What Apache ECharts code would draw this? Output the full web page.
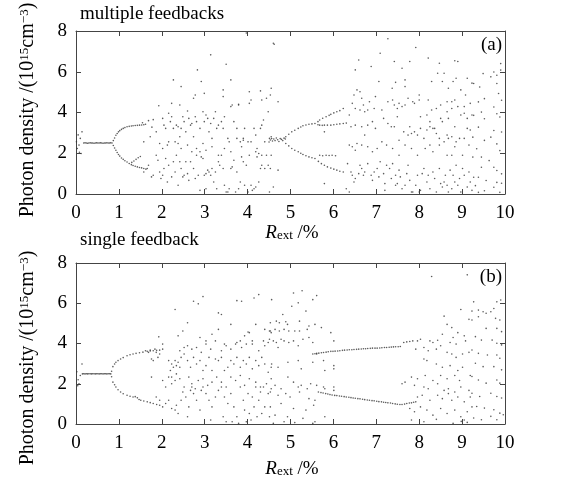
<!DOCTYPE html>
<html><head><meta charset="utf-8">
<script src="https://cdn.jsdelivr.net/npm/echarts@6/dist/echarts.min.js"></script>
<style>html,body{margin:0;padding:0;background:#fff}#c{width:561px;height:486px}</style>
</head><body><div id="c"></div>
<script>
// ---------- axes ----------
const xMin = 0, xMax = 10, xStep = 1;
const yMin = 0, yMax = 8, yStep = 2;
const titleA = 'multiple feedbacks';
const titleB = 'single feedback';

// ---------- panel (a): multiple feedbacks ----------
const aTransient = [[0.01,2.56],[0.03,2.23],[0.07,2.40],[0.10,2.73],[0.12,1.99],[0.14,3.05],[0.05,2.9],[0.08,2.05]];
const aFixed = [[0.18,2.50],[0.21,2.51],[0.24,2.50],[0.27,2.49],[0.30,2.50],[0.33,2.51],[0.36,2.50],[0.39,2.50],[0.42,2.49],[0.45,2.50],[0.48,2.51],[0.51,2.50],[0.54,2.50],[0.57,2.51],[0.60,2.50],[0.63,2.49],[0.66,2.50],[0.69,2.50],[0.72,2.51],[0.75,2.50],[0.78,2.50],[0.81,2.51],[0.84,2.50]];
const aBranch1 = [[0.87,2.62],[0.90,2.75],[0.93,2.88],[0.96,2.97],[0.99,3.05],[1.02,3.11],[1.06,3.17],[1.10,3.22],[1.14,3.26],[1.19,3.30],[1.24,3.32],[1.29,3.34],[1.33,3.35],[1.38,3.36],[1.43,3.37],[1.48,3.38],[1.53,3.39],[1.58,3.40],
 [0.87,2.38],[0.90,2.26],[0.93,2.15],[0.96,2.04],[0.99,1.94],[1.02,1.86],[1.06,1.77],[1.10,1.70],[1.14,1.63],[1.19,1.57],[1.24,1.50],[1.29,1.44],[1.33,1.40],[1.38,1.36],[1.43,1.33],[1.48,1.30],[1.53,1.28],[1.58,1.25],[1.63,1.22],
 [1.30,1.55],[1.35,1.62],[1.40,1.70],[1.45,1.78],[1.50,1.84],
 [1.55,3.50],[1.62,3.42],[1.69,3.60],[1.77,3.28],[1.80,3.65]];
const aChaos1 = [[1.58,2.56],[1.73,2.81],[1.87,3.05],[1.95,2.48],[2.02,3.71],[2.05,3.38],[2.09,3.22],[2.16,3.96],[2.20,3.55],[2.23,3.79],[2.27,3.22],[2.34,3.38],[2.38,3.30],[2.42,2.81],[2.45,3.22],[2.49,3.79],[2.52,3.55],[2.56,3.05],[2.60,4.07],[2.63,3.71],[2.67,3.38],[2.70,3.46],[2.74,2.81],[2.78,3.79],[2.81,3.55],[2.89,3.22],[2.96,4.04],[2.99,3.55],[3.03,3.88],[3.07,3.71],[3.10,3.05],[3.14,3.46],[3.17,2.73],[3.21,3.71],[3.25,4.04],[3.28,3.22],[3.32,3.38],[3.39,3.55],[3.43,3.22],[3.46,3.79],[3.54,2.73],[3.57,2.56],[3.61,4.29],[3.64,4.37],[3.68,3.55],[3.75,3.22],[3.79,4.37],[3.83,2.56],[3.86,2.32],[3.90,2.73],[3.93,3.22],[4.01,2.56],[4.04,4.45],[4.08,2.56],[4.15,3.22],[4.19,2.89],[4.22,2.23],[4.26,1.99],[4.30,3.22],[4.33,3.38],[4.37,3.63],[4.40,2.56],[4.48,4.04],[4.51,2.73],[4.55,2.81],
 [1.93,4.33],[2.23,4.45],[2.27,5.60],[2.42,4.37],[2.45,5.27],[2.74,4.70],[2.78,4.86],[2.83,6.09],[2.92,5.52],[2.99,4.94],[3.14,6.83],[3.43,5.11],[3.43,4.78],[3.50,6.37],[3.61,5.60],[3.79,4.40],[4.04,5.02],[4.08,4.61],[4.30,5.06],[4.33,4.61],[4.44,4.70],[3.97,7.90],[4.62,7.35],
 [1.58,1.08],[1.66,1.25],[1.69,1.41],[1.76,0.84],[1.80,0.92],[1.87,1.90],[1.91,1.66],[1.95,1.08],[1.98,0.76],[2.02,0.92],[2.05,1.25],[2.09,1.74],[2.13,0.59],[2.16,1.41],[2.23,0.84],[2.27,1.58],[2.31,1.08],[2.34,1.90],[2.38,0.43],[2.42,1.58],[2.45,1.25],[2.49,0.84],[2.52,0.92],[2.56,1.58],[2.60,1.00],[2.63,0.67],[2.67,1.58],[2.74,1.25],[2.78,0.76],[2.81,1.90],[2.85,0.92],[2.89,2.07],[2.92,1.82],[2.96,1.74],[2.99,0.92],[3.03,1.00],[3.07,1.17],[3.10,1.08],[3.14,0.92],[3.17,1.25],[3.21,0.59],[3.25,1.08],[3.28,0.26],[3.32,1.58],[3.35,1.41],[3.39,1.90],[3.43,1.25],[3.46,0.43],[3.50,0.10],[3.54,0.10],[3.57,0.26],[3.61,1.25],[3.64,1.33],[3.68,1.66],[3.72,0.10],[3.75,1.08],[3.79,0.26],[3.83,0.59],[3.86,1.82],[3.90,1.58],[3.93,0.43],[3.97,1.41],[4.01,0.10],[4.04,1.90],[4.08,0.43],[4.11,0.18],[4.15,0.26],[4.19,0.34],[4.22,1.82],[4.26,0.59],[4.30,1.25],[4.33,1.41],[4.40,1.25],[4.48,1.41],[4.51,0.10],[4.55,1.90],[2.89,0.18],[3.03,0.26],
 [2.02,2.23],[2.13,2.40],[2.16,2.56],[2.31,2.56],[2.38,2.48],[2.45,2.23],[2.60,2.40],[2.70,2.07],[2.81,2.23],[2.96,2.48],[3.03,2.15],[3.17,2.32],[3.32,1.90],[3.46,2.23],[3.61,2.07],[3.75,2.73],[3.90,2.64],[4.19,2.07],[4.33,1.90],[4.44,1.90]];
const aBranch2 = [[4.50,2.55],[4.53,2.65],[4.56,2.72],[4.58,2.60],[4.61,2.70],[4.64,2.62],[4.67,2.75],[4.70,2.66],[4.73,2.58],[4.76,2.72],[4.79,2.68],[4.82,2.62],[4.85,2.74],[4.88,2.70],
 [4.89,2.81],[4.96,2.93],[5.03,3.05],[5.10,3.13],[5.18,3.22],[5.24,3.29],[5.29,3.35],[5.36,3.39],[5.43,3.42],[5.50,3.44],[5.57,3.46],
 [5.64,3.40],[5.68,3.38],[5.74,3.37],[5.79,3.38],[5.86,3.38],[5.94,3.38],[6.01,3.40],[6.08,3.42],[6.15,3.44],[6.23,3.46],[6.30,3.48],
 [5.64,3.55],[5.68,3.63],[5.75,3.72],[5.83,3.79],[5.90,3.86],[5.94,3.91],[6.01,3.98],[6.08,4.04],[6.15,4.09],[6.23,4.20],
 [4.89,2.48],[4.96,2.36],[5.03,2.23],[5.10,2.15],[5.18,2.07],[5.24,2.00],[5.29,1.94],[5.36,1.88],[5.43,1.82],[5.50,1.78],[5.57,1.74],
 [5.68,1.90],[5.75,1.88],[5.83,1.90],[5.90,1.89],[5.97,1.90],[6.05,1.88],
 [5.65,1.60],[5.72,1.49],[5.79,1.41],[5.86,1.33],[5.94,1.27],[6.01,1.22],[6.08,1.17],[6.15,1.12],[6.23,1.08],
 [4.60,7.40],[4.55,5.19],[4.53,4.86],[4.71,4.53],[4.53,1.25],[4.71,1.17],[4.60,0.34],[5.79,0.51],[5.79,3.05],[6.30,0.26]];
const aChaos2 = [[6.59,6.58],[6.51,6.09],[6.88,6.26],[7.09,6.91],[7.27,7.62],[7.06,5.52],[7.42,6.50],[7.45,5.48],[7.60,6.17],[7.67,5.60],[7.78,6.50],[7.92,7.19],[8.21,6.67],[8.29,5.52],[8.43,5.93],[8.47,6.42],[8.58,5.93],[8.54,5.52],[8.65,4.53],[8.68,5.19],[8.79,5.52],[8.83,6.54],[8.86,5.68],[8.90,6.50],[8.97,5.11],[9.08,4.86],[9.12,5.68],[9.23,5.44],[6.55,5.11],[6.62,5.02],[6.66,4.70],[6.98,4.78],[7.37,5.19],[7.67,5.27],[8.00,4.86],[8.00,4.61],[8.21,4.61],[8.29,4.12],[8.40,4.20],[8.50,4.37],[8.76,4.53],[8.83,4.61],[8.90,4.29],[9.05,4.29],[9.19,4.45],[6.44,4.45],[6.48,4.86],[6.51,4.20],[6.62,4.12],[6.70,4.37],[6.73,4.04],[6.80,4.12],[6.84,4.53],[6.95,4.20],[7.13,4.12],[7.27,4.53],[7.38,4.61],[7.42,4.37],[7.49,4.20],[7.53,4.45],[7.60,4.29],[7.67,4.37],[7.74,4.70],[7.85,4.53],[7.89,4.45],[8.03,3.79],[8.18,3.88],[8.25,3.55],[8.36,3.22],[8.50,3.71],[8.54,3.55],[8.65,4.04],[8.68,3.71],[8.76,4.20],[8.97,3.88],[9.05,3.96],[9.12,3.71],[9.23,3.88],
 [6.37,3.88],[6.41,3.30],[6.51,3.38],[6.66,3.30],[6.73,2.89],[6.80,3.38],[6.91,3.55],[6.98,3.22],[7.17,3.71],[7.27,3.46],[7.35,3.30],[7.42,3.30],[7.49,3.79],[7.53,2.64],[7.64,3.05],[7.74,2.89],[7.78,3.30],[7.82,2.97],[7.89,3.05],[7.96,2.89],[8.03,3.22],[8.11,2.73],[8.18,3.14],[8.25,3.30],[8.32,3.22],[8.40,2.97],[8.47,2.73],[8.58,2.56],[8.65,2.89],[8.68,2.73],[8.76,2.81],[8.83,3.30],[8.86,2.56],[8.94,2.73],[9.05,2.73],[9.12,3.22],[9.19,3.14],[6.37,2.40],[6.44,2.32],[6.51,2.15],[6.55,2.48],[6.66,2.40],[6.80,2.32],[6.91,2.07],[7.02,2.23],[7.13,2.56],[7.24,2.40],[7.38,2.23],[7.53,1.90],[7.67,2.40],[7.82,2.23],[7.96,1.90],[8.14,2.23],[8.25,2.40],[8.32,2.07],[8.47,2.40],[8.65,1.90],[8.76,1.90],[8.83,2.32],[9.01,1.90],[9.16,2.40],
 [6.33,1.49],[6.41,1.08],[6.44,0.92],[6.48,0.59],[6.51,0.76],[6.59,1.00],[6.62,1.41],[6.66,1.25],[6.70,0.92],[6.73,1.08],[6.80,1.49],[6.88,0.92],[6.91,0.67],[6.95,1.08],[7.02,1.25],[7.06,0.84],[7.09,1.58],[7.17,1.00],[7.20,0.51],[7.24,1.41],[7.31,1.25],[7.35,0.76],[7.38,1.49],[7.45,0.92],[7.49,0.51],[7.53,1.17],[7.56,0.84],[7.60,0.26],[7.67,0.43],[7.71,1.00],[7.74,1.41],[7.78,0.67],[7.82,0.10],[7.85,0.10],[7.92,0.43],[7.96,0.92],[8.00,0.10],[8.03,0.18],[8.07,1.00],[8.11,1.25],[8.18,0.59],[8.21,0.92],[8.25,0.26],[8.32,1.08],[8.36,0.76],[8.40,0.10],[8.47,1.25],[8.50,0.51],[8.54,0.34],[8.58,0.59],[8.61,0.92],[8.65,0.43],[8.68,0.10],[8.72,1.17],[8.76,0.26],[8.79,0.92],[8.83,0.59],[8.86,1.41],[8.90,0.43],[8.94,0.76],[8.97,0.10],[9.01,1.25],[9.05,0.92],[9.12,0.34],[9.16,1.08],[9.19,0.59],[9.23,0.18],[6.37,0.10],[7.20,0.18],[7.45,0.43],
 [9.90,6.40],[9.90,6.08],[9.81,5.83],[9.74,5.99],[9.67,5.75],[9.49,5.91],[9.27,5.42],[9.41,5.25],[9.81,5.42],[9.85,4.93],[9.92,4.60],[9.52,4.68],[9.38,4.52],[9.74,4.27],[9.27,3.86],[9.45,4.02],[9.81,3.94],[9.88,3.78],[9.52,3.69],[9.38,3.28],[9.74,3.12],[9.92,3.04],[9.25,2.79],[9.52,2.63],[9.81,2.46],[9.34,2.22],[9.88,2.13],[9.45,1.81],[9.63,1.64],[9.74,1.31],[9.81,1.15],[9.92,0.99],[9.38,0.82],[9.56,0.66],[9.81,0.57],[9.92,0.53],[9.31,0.41],[9.74,0.33],[9.38,0.08],[9.52,0.16],[9.88,0.08],[9.25,1.81],[9.67,2.79],[9.45,1.31],[9.27,0.82]];

// ---------- panel (b): single feedback ----------
const bTransient = [[0.02,2.60],[0.05,2.20],[0.07,2.00],[0.10,2.41],[0.14,2.98],[0.04,1.90]];
const bFixed = [[0.15,2.49],[0.18,2.50],[0.21,2.49],[0.24,2.50],[0.27,2.49],[0.30,2.50],[0.33,2.50],[0.36,2.49],[0.39,2.50],[0.42,2.50],[0.45,2.49],[0.48,2.50],[0.51,2.50],[0.54,2.49],[0.57,2.50],[0.60,2.50],[0.63,2.49],[0.66,2.50],[0.69,2.50],[0.72,2.49],[0.75,2.50],[0.78,2.50],[0.81,2.49]];
const bBranch1 = [[0.83,2.62],[0.86,2.85],[0.90,2.98],[0.93,3.07],[0.98,3.15],[1.04,3.23],[1.10,3.30],[1.19,3.39],[1.26,3.44],[1.33,3.48],[1.40,3.51],[1.48,3.54],[1.56,3.57],[1.66,3.61],[1.73,3.63],[1.80,3.64],[1.88,3.66],[1.95,3.67],
 [0.83,2.35],[0.86,2.08],[0.90,1.95],[0.93,1.84],[0.98,1.70],[1.04,1.59],[1.10,1.50],[1.19,1.43],[1.26,1.38],[1.33,1.34],[1.38,1.36],[1.43,1.30],[1.47,1.22],[1.51,1.18],[1.58,1.14],[1.66,1.10],[1.73,1.06],[1.80,1.02],[1.88,0.97],[1.95,0.93]];
const bChaos1 = [[1.62,3.64],[1.69,3.56],[1.73,3.67],[1.84,3.72],[1.87,3.56],[1.95,3.48],[2.02,3.72],[1.76,3.23],[1.80,3.15],[1.91,3.31],
 [2.16,3.15],[2.23,2.98],[2.31,3.15],[2.34,2.90],[2.27,2.82],[2.38,3.07],[2.20,2.66],[2.23,2.33],[2.34,2.49],[2.42,2.82],[2.45,3.31],[2.52,3.48],[2.60,3.15],[2.67,2.82],[2.74,3.31],[2.81,2.98],[2.89,3.15],[2.96,2.66],[3.03,2.90],[3.10,3.31],[3.17,2.66],[3.25,3.23],[3.32,3.15],[3.39,3.31],[3.46,2.66],[3.54,2.82],[3.61,3.15],[3.68,2.98],[3.75,3.31],[3.83,2.82],[3.90,3.15],[3.97,2.98],[4.04,3.31],[4.11,2.74],[4.19,3.15],[4.26,2.90],[4.33,3.31],[4.40,2.98],[4.48,2.57],[4.55,2.82],[2.42,3.64],[2.52,3.80],[2.60,3.89],[2.70,3.72],[2.81,3.80],[2.92,3.56],[3.03,3.97],[3.14,3.72],[3.25,4.13],[3.39,3.64],[3.50,3.89],[3.61,3.72],[3.75,4.05],[3.86,3.80],[3.97,3.97],[4.11,4.13],[4.26,3.64],[4.40,3.89],[4.51,4.21],
 [1.93,4.33],[2.02,3.97],[2.31,5.69],[2.38,4.38],[2.49,4.62],[2.60,5.03],[2.74,6.10],[2.85,5.97],[2.89,4.30],[2.96,6.33],[3.03,4.13],[3.17,4.46],[3.32,5.52],[3.39,5.44],[3.32,4.70],[3.46,3.97],[3.61,4.95],[3.72,3.97],[3.75,6.13],[3.83,4.13],[3.86,6.10],[3.93,4.38],[4.01,4.57],[4.04,4.54],[4.11,3.97],[4.15,6.26],[4.19,4.95],[4.26,6.43],[4.37,4.13],[4.40,4.70],[4.48,4.05],[4.51,4.62],[4.55,4.54],
 [1.76,2.33],[1.87,1.34],[1.95,1.18],[2.02,0.85],[2.09,1.02],[2.16,1.18],[2.23,0.77],[2.31,0.69],[2.34,0.93],[2.38,0.52],[2.45,1.18],[2.49,1.59],[2.56,1.34],[2.60,0.36],[2.63,0.85],[2.67,1.67],[2.70,1.84],[2.74,1.51],[2.81,1.18],[2.89,0.69],[2.92,1.67],[2.96,1.84],[3.03,1.51],[3.10,1.18],[3.14,0.20],[3.17,0.85],[3.25,1.34],[3.32,1.67],[3.39,1.84],[3.43,0.36],[3.46,1.34],[3.50,0.11],[3.54,1.02],[3.61,1.51],[3.64,0.11],[3.68,0.85],[3.75,0.36],[3.79,0.03],[3.83,1.84],[3.90,1.18],[3.93,0.69],[3.97,0.11],[4.01,1.51],[4.04,0.52],[4.08,0.20],[4.11,1.34],[4.15,0.85],[4.19,1.84],[4.22,0.36],[4.26,1.18],[4.30,1.59],[4.33,0.52],[4.37,1.84],[4.40,0.85],[4.48,1.51],[4.51,0.36],[4.55,1.75],
 [2.02,2.16],[2.09,1.84],[2.16,2.33],[2.23,2.00],[2.31,2.16],[2.42,2.25],[2.52,1.84],[2.63,2.33],[2.70,2.00],[2.78,1.75],[2.85,2.16],[2.96,2.25],[3.07,1.92],[3.17,2.08],[3.28,2.33],[3.39,2.08],[3.50,1.84],[3.61,2.33],[3.72,2.16],[3.83,2.41],[3.93,1.92],[4.04,2.25],[4.19,2.08],[4.30,1.84],[4.44,2.00],[4.55,2.25]];
const bChaos2 = [[4.56,6.18],[5.07,6.51],[5.18,6.02],[5.27,6.62],[5.61,6.38],[5.52,6.18],[5.36,5.61],[5.03,5.85],[4.82,5.44],[4.53,5.03],[4.67,5.11],[4.74,5.03],[4.89,5.08],[4.93,4.95],[5.21,5.11],[5.57,4.95],[5.43,4.87],[5.72,4.79],[5.94,4.54],
 [4.53,4.62],[4.64,4.70],[4.74,4.62],[4.85,4.70],[4.96,4.62],[5.10,4.62],[5.21,4.62],[5.39,4.70],[4.60,4.13],[4.67,4.05],[4.78,4.21],[4.85,4.13],[4.96,4.05],[5.07,4.13],[5.18,3.89],[5.29,4.21],[5.43,4.30],[5.52,4.05],[5.61,3.48],[4.71,3.80],[6.01,4.13],
 [4.56,2.98],[4.71,2.82],[4.94,3.07],[5.18,3.15],[5.25,2.74],[5.52,3.07],[5.77,3.15],[5.80,2.66],[6.01,2.90],[6.01,2.74],
 [4.64,1.92],[4.78,1.75],[4.94,2.33],[5.07,2.08],[5.18,1.84],[5.25,1.92],[5.39,1.75],[5.47,2.00],[5.61,1.92],[5.77,1.84],[5.80,1.75],[6.01,1.84],[6.01,1.67],[4.53,1.59],[4.71,1.43],[4.89,1.51],[4.99,1.34],[5.21,1.59],[5.43,1.26],[5.57,1.18],[4.53,0.85],[4.78,1.02],[5.07,0.77],[5.36,0.69],[5.54,0.93],[5.80,0.36],[4.64,0.44],[4.93,0.36],[5.29,0.28],[5.52,0.03],[5.10,0.07],[5.57,0.11],[4.60,0.03],[4.85,0.11]];
const bBranch2 = [[5.52,3.48],[5.57,3.49],[5.61,3.51],[5.66,3.52],[5.72,3.54],[5.77,3.55],[5.83,3.57],[5.88,3.59],[5.94,3.61],[5.99,3.61],[6.04,3.62],[6.10,3.63],[6.15,3.64],[6.21,3.66],[6.26,3.67],[6.32,3.68],[6.37,3.69],[6.43,3.69],[6.48,3.70],[6.54,3.71],[6.59,3.72],[6.65,3.73],[6.70,3.74],[6.75,3.74],[6.80,3.75],[6.86,3.76],[6.91,3.77],[6.97,3.77],[7.02,3.77],[7.08,3.78],[7.13,3.79],[7.19,3.80],[7.24,3.80],[7.30,3.81],[7.35,3.82],[7.40,3.83],[7.45,3.84],[7.51,3.84],[7.56,3.85],[7.64,4.05],[7.71,4.08],[7.78,4.10],[7.85,4.13],
 [5.65,1.59],[5.71,1.56],[5.76,1.54],[5.82,1.51],[5.87,1.49],[5.92,1.46],[5.97,1.44],[6.03,1.42],[6.08,1.41],[6.14,1.39],[6.19,1.38],[6.25,1.36],[6.30,1.34],[6.36,1.33],[6.41,1.31],[6.46,1.29],[6.51,1.28],[6.57,1.26],[6.62,1.25],[6.68,1.23],[6.73,1.21],[6.79,1.19],[6.84,1.18],[6.90,1.16],[6.95,1.15],[7.01,1.13],[7.06,1.11],[7.12,1.10],[7.17,1.08],[7.22,1.07],[7.27,1.05],[7.33,1.04],[7.38,1.02],[7.44,1.00],[7.49,0.98],[7.55,0.97],[7.60,0.97],[7.66,0.99],[7.71,1.02],[7.77,1.04],[7.82,1.05],[7.87,1.08],[7.92,1.10],
 [7.60,2.00],[7.67,2.08]];
const bChaos3 = [[8.29,7.33],[9.12,7.41],[8.97,5.69],[9.16,5.20],[9.23,5.61],[8.58,5.36],[8.65,4.95],[8.76,4.79],[8.90,4.54],[9.05,4.38],[8.54,4.46],[8.79,4.30],[7.96,4.13],[8.03,4.21],[8.25,4.13],[8.32,4.05],[8.43,4.16],[8.72,4.05],[8.86,3.97],[9.08,4.13],[7.92,3.72],[8.11,3.80],[8.21,3.64],[8.40,3.72],[8.50,3.89],[8.65,3.56],[8.76,3.48],[8.86,3.31],[9.01,3.48],[9.16,3.56],[8.11,3.23],[8.18,3.15],[8.40,2.98],[8.54,2.82],[8.72,2.90],[8.90,2.66],[9.01,2.82],[9.19,2.41],[7.82,2.33],[7.96,2.25],[8.14,2.41],[8.32,2.16],[8.50,2.41],[8.65,2.25],[8.83,2.41],[8.94,2.16],[7.89,1.92],[8.11,1.84],[8.21,1.75],[8.43,2.00],[8.58,1.67],[8.68,1.75],[8.83,1.59],[8.97,1.84],[9.16,1.67],[7.96,1.34],[8.07,1.43],[8.25,1.18],[8.43,1.43],[8.54,1.26],[8.68,1.51],[8.76,1.18],[8.90,1.34],[9.05,1.10],[9.19,1.34],[7.78,0.77],[7.89,0.61],[8.03,0.85],[8.18,0.69],[8.32,0.44],[8.50,0.77],[8.65,0.52],[8.83,0.69],[8.97,0.36],[9.12,0.61],[9.23,0.85],[7.82,0.20],[8.11,0.11],[8.40,0.23],[8.79,0.03],[9.05,0.20],
 [9.27,6.07],[9.38,5.66],[9.49,5.58],[9.56,5.50],[9.67,5.58],[9.74,5.74],[9.88,5.17],[9.81,6.07],[9.90,6.16],[9.78,5.25],[9.38,5.33],[9.23,5.17],[9.56,4.75],[9.81,4.75],[9.92,4.59],[9.31,4.34],[9.45,4.17],[9.70,4.17],[9.81,4.01],[9.92,3.93],[9.23,3.68],[9.38,3.51],[9.59,3.43],[9.81,3.43],[9.88,3.27],[9.31,3.02],[9.49,2.85],[9.74,2.85],[9.92,2.69],[9.23,2.36],[9.38,2.19],[9.56,2.03],[9.81,2.19],[9.88,2.03],[9.23,1.53],[9.41,1.37],[9.67,1.53],[9.81,1.37],[9.92,1.29],[9.34,0.87],[9.52,0.79],[9.74,0.71],[9.88,0.54],[9.96,0.46],[9.27,0.30],[9.45,0.21],[9.67,0.38],[9.81,0.21],[9.12,0.08],[8.98,0.13]];

const panelA = [aTransient, aFixed, aBranch1, aChaos1, aBranch2, aChaos2];
const panelB = [bTransient, bFixed, bBranch1, bChaos1, bChaos2, bBranch2, bChaos3];

// ---------- chart ----------
const FONT = 'Liberation Serif';
const AX = '#444';
function xAx(g, pos) {
  return { gridIndex: g, type: 'value', position: pos, min: xMin, max: xMax, interval: xStep,
    axisLine: { onZero: false, lineStyle: { color: AX, width: 1 } },
    axisTick: { inside: true, length: 5, lineStyle: { color: AX } },
    axisLabel: { show: pos === 'bottom', margin: 10, fontSize: 19, fontFamily: FONT, color: '#000' },
    splitLine: { show: false } };
}
function yAx(g, pos) {
  return { gridIndex: g, type: 'value', position: pos, min: yMin, max: yMax, interval: yStep,
    axisLine: { onZero: false, lineStyle: { color: AX, width: 1 } },
    axisTick: { inside: true, length: 5, lineStyle: { color: AX } },
    axisLabel: { show: pos === 'left', margin: 9, fontSize: 19, fontFamily: FONT, color: '#000' },
    splitLine: { show: false } };
}
const series = [];
panelA.forEach(d => series.push({ type: 'scatter', xAxisIndex: 0, yAxisIndex: 0, data: d, symbolSize: 1.6, itemStyle: { color: '#333' }, silent: true }));
panelB.forEach(d => series.push({ type: 'scatter', xAxisIndex: 2, yAxisIndex: 2, data: d, symbolSize: 1.6, itemStyle: { color: '#333' }, silent: true }));

const richY = {
  n: { fontSize: 20, fontFamily: FONT, color: '#000' },
  s: { fontSize: 13, fontFamily: FONT, color: '#000', verticalAlign: 'top' }
};
const yName = '{n|Photon density /(10}{s|15}{n|cm}{s|−3}{n|)}';
const richX = {
  i: { fontSize: 19, fontFamily: FONT, fontStyle: 'italic', color: '#000' },
  sub: { fontSize: 13, fontFamily: FONT, color: '#000', verticalAlign: 'bottom' },
  n: { fontSize: 19, fontFamily: FONT, color: '#000' }
};
const xName = '{i|R}{sub|ext}{n| /%}';

function txt(x, y, text, opt) {
  return Object.assign({ type: 'text', x: x, y: y, silent: true,
    style: Object.assign({ text: text, font: '19px "' + FONT + '"', fill: '#000' }, opt || {}) });
}

const chart = echarts.init(document.getElementById('c'), null, { renderer: 'canvas' });
chart.setOption({
  animation: false,
  backgroundColor: '#fff',
  grid: [
    { left: 76, top: 31, width: 429, height: 163 },
    { left: 76, top: 263, width: 429, height: 161 }
  ],
  xAxis: [xAx(0, 'bottom'), xAx(0, 'top'), xAx(1, 'bottom'), xAx(1, 'top')],
  yAxis: [yAx(0, 'left'), yAx(0, 'right'), yAx(1, 'left'), yAx(1, 'right')],
  series: series,
  graphic: [
    txt(80, 14, titleA, { verticalAlign: 'middle' }),
    txt(502, 45, '(a)', { align: 'right', verticalAlign: 'middle' }),
    txt(80, 240, titleB, { verticalAlign: 'middle' }),
    txt(502, 277, '(b)', { align: 'right', verticalAlign: 'middle' }),
    { type: 'text', x: 292, y: 233, silent: true, style: { text: xName, rich: richX, align: 'center', verticalAlign: 'middle' } },
    { type: 'text', x: 292, y: 469, silent: true, style: { text: xName, rich: richX, align: 'center', verticalAlign: 'middle' } },
    { type: 'text', x: 28, y: 110, rotation: Math.PI / 2, silent: true, style: { text: yName, rich: richY, align: 'center', verticalAlign: 'middle' } },
    { type: 'text', x: 28, y: 358, rotation: Math.PI / 2, silent: true, style: { text: yName, rich: richY, align: 'center', verticalAlign: 'middle' } }
  ]
});
</script>
</body></html>
